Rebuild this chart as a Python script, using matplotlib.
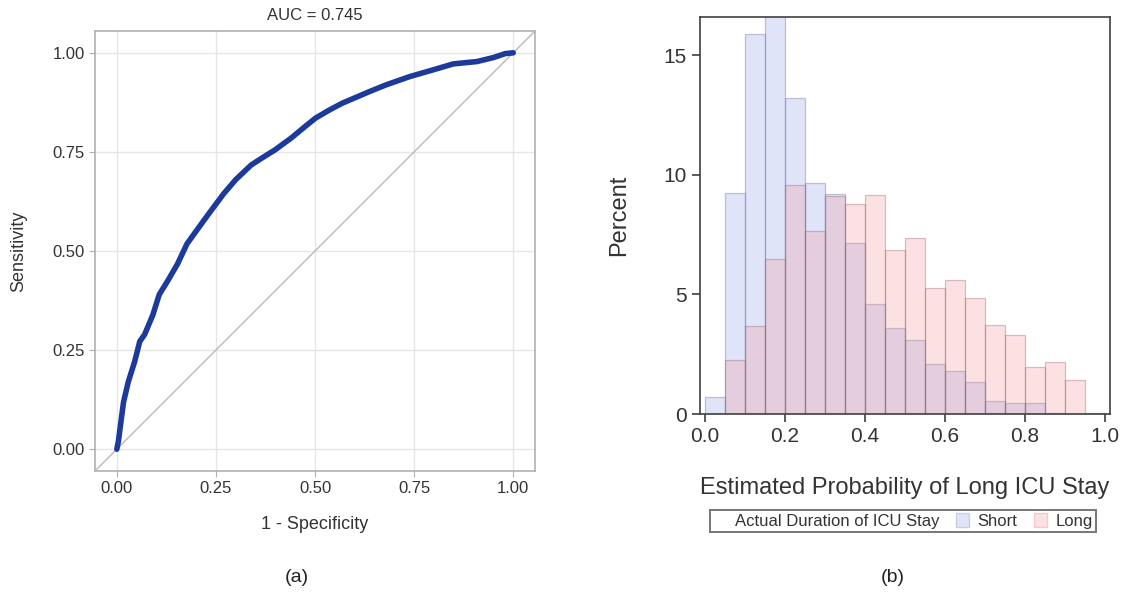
import numpy as np
import matplotlib
matplotlib.use('Agg')
import matplotlib.pyplot as plt
from matplotlib.patches import Patch

plt.rcParams['font.family'] = ['Liberation Sans', 'DejaVu Sans']

# Colors
ROC_BLUE = '#1c3a9c'
DIAG_GREY = '#b8b8b8'
GRID_GREY = '#e6e6e6'
SPINE_GREY = '#b0b0b0'
SHORT_FILL = (0.55, 0.63, 0.92, 0.28)
LONG_FILL = (0.95, 0.58, 0.58, 0.28)
SHORT_EDGE = (0.45, 0.45, 0.65, 0.40)
LONG_EDGE = (0.55, 0.35, 0.42, 0.35)

# ROC curve (a)
fpr = [0.0, 0.004, 0.008, 0.017, 0.029, 0.045, 0.058, 0.070, 0.091, 0.107,
       0.128, 0.153, 0.177, 0.200, 0.229, 0.270, 0.300, 0.339, 0.370, 0.399,
       0.440, 0.475, 0.501, 0.535, 0.569, 0.637, 0.679, 0.739, 0.798, 0.849,
       0.909, 0.950, 0.980, 1.0]
tpr = [0.0, 0.020, 0.051, 0.119, 0.170, 0.221, 0.272, 0.289, 0.339, 0.390,
       0.424, 0.467, 0.518, 0.550, 0.590, 0.645, 0.680, 0.717, 0.737, 0.755,
       0.785, 0.814, 0.835, 0.855, 0.873, 0.902, 0.919, 0.940, 0.957, 0.972,
       0.978, 0.988, 0.998, 1.0]
roc_ticks = [0.0, 0.25, 0.5, 0.75, 1.0]
roc_ticklabels = ['0.00', '0.25', '0.50', '0.75', '1.00']

# histogram (b), percent per 0.05 bin
bin_width = 0.05
bin_left = np.arange(20) * bin_width
short_pct = [0.7, 9.26, 15.9, 16.9, 13.2, 9.65, 9.2, 7.15, 4.6, 3.58,
             3.08, 2.08, 1.78, 1.33, 0.53, 0.44, 0.44, 0.05, 0.0, 0.0]
long_pct = [0.0, 2.24, 3.7, 6.5, 9.57, 7.65, 9.1, 8.8, 9.14, 6.84,
            7.35, 5.26, 5.6, 4.87, 3.72, 3.32, 1.96, 2.17, 1.43, 0.05]
hist_xticks = [0.0, 0.2, 0.4, 0.6, 0.8, 1.0]
hist_yticks = [0, 5, 10, 15]

W, H = 1134, 602
fig = plt.figure(figsize=(W / 100, H / 100), dpi=100)


def frac(left, top, right, bottom):
    return [left / W, 1 - bottom / H, (right - left) / W, (bottom - top) / H]


# ---- (a) ROC ----
ax1 = fig.add_axes(frac(95, 31, 535, 471))
ax1.plot([-0.055, 1.055], [-0.055, 1.055], color=DIAG_GREY, lw=1.0, zorder=2)
ax1.plot(fpr, tpr, color=ROC_BLUE, lw=4.0, solid_capstyle='round',
         solid_joinstyle='round', zorder=3)
ax1.set_xlim(-0.055, 1.055)
ax1.set_ylim(-0.055, 1.055)
ax1.set_xticks(roc_ticks)
ax1.set_xticklabels(roc_ticklabels)
ax1.set_yticks(roc_ticks)
ax1.set_yticklabels(roc_ticklabels)
ax1.grid(True, color=GRID_GREY, lw=1.0, zorder=0)
ax1.set_axisbelow(True)
for s in ax1.spines.values():
    s.set_color(SPINE_GREY)
    s.set_linewidth(1.2)
ax1.tick_params(colors='#333333', labelsize=12, length=4, color=SPINE_GREY)
ax1.set_title('AUC = 0.745', fontsize=12, color='#333333', pad=8)
ax1.set_xlabel('1 - Specificity', fontsize=13, color='#333333', labelpad=14)
ax1.set_ylabel('Sensitivity', fontsize=13, color='#333333', labelpad=18)

# ---- (b) histogram ----
ax2 = fig.add_axes(frac(700, 17, 1110, 414))
ax2.bar(bin_left, short_pct, width=bin_width, align='edge',
        facecolor=SHORT_FILL, edgecolor=SHORT_EDGE, lw=0.9, label='Short')
ax2.bar(bin_left, long_pct, width=bin_width, align='edge',
        facecolor=LONG_FILL, edgecolor=LONG_EDGE, lw=0.9, label='Long')
ax2.set_xlim(-0.012, 1.012)
ax2.set_ylim(0, 16.6)
ax2.set_xticks(hist_xticks)
ax2.set_xticklabels(['0.0', '0.2', '0.4', '0.6', '0.8', '1.0'])
ax2.set_yticks(hist_yticks)
for s in ax2.spines.values():
    s.set_color('#404040')
    s.set_linewidth(1.2)
ax2.tick_params(colors='#333333', labelsize=15, length=6, width=1.2, color='#404040')
ax2.set_xlabel('Estimated Probability of Long ICU Stay', fontsize=17,
               color='#333333', labelpad=22)
ax2.set_ylabel('Percent', fontsize=17, color='#333333', labelpad=24)

handles = [Patch(facecolor='none', edgecolor='none'),
           Patch(facecolor=SHORT_FILL, edgecolor=(0.8, 0.8, 0.9)),
           Patch(facecolor=LONG_FILL, edgecolor=(0.95, 0.8, 0.8))]
labels = ['Actual Duration of ICU Stay', 'Short', 'Long']
leg = fig.legend(handles, labels, loc='center', ncol=3,
                 bbox_to_anchor=(903 / W, 1 - 521 / H), fontsize=12,
                 frameon=True, fancybox=False, handlelength=0.8,
                 handleheight=0.9, handletextpad=0.5, columnspacing=1.0,
                 borderpad=0.2, borderaxespad=0)
leg.get_frame().set_edgecolor('#555555')
leg.get_frame().set_linewidth(1.4)
for t in leg.get_texts():
    t.set_color('#333333')

fig.text(297 / W, 1 - 578 / H, '(a)', ha='center', va='center', fontsize=14, color='#222222')
fig.text(893 / W, 1 - 578 / H, '(b)', ha='center', va='center', fontsize=14, color='#222222')

fig.savefig('out.png', dpi=100)
